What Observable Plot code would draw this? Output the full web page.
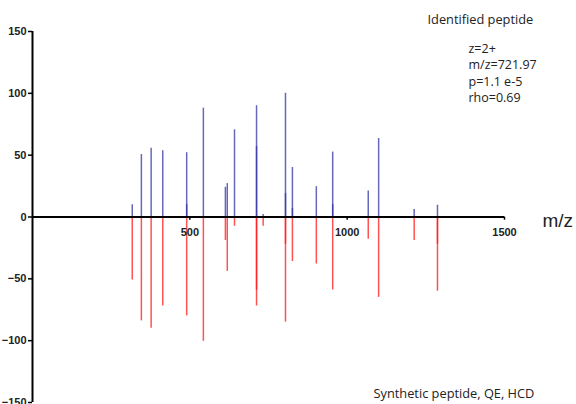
<!DOCTYPE html>
<html>
<head>
<meta charset="utf-8">
<script src="https://cdn.jsdelivr.net/npm/d3@7"></script>
<script src="https://cdn.jsdelivr.net/npm/@observablehq/plot@0.6"></script>
<style>
  html, body { margin: 0; padding: 0; background: #fff; }
  svg { display: block; }
</style>
</head>
<body>
<div id="chart"></div>
<script>
// Identified peptide (top, blue)
const topMz  = [317, 346, 377, 414, 490, 490, 543, 613, 619, 642, 712, 712, 733, 804, 804, 826, 826, 902, 954, 954, 1067, 1100, 1213, 1287];
const topInt = [10, 50.5, 55.5, 53.5, 52, 10, 88, 24, 27, 70.5, 90, 57, 2, 100, 19, 40, 7, 24.5, 52.5, 10, 21, 63.5, 6, 9.5];
// Synthetic peptide (bottom, red)
const botMz  = [317, 346, 377, 414, 490, 543, 613, 619, 642, 712, 712, 733, 804, 804, 826, 902, 954, 1067, 1100, 1213, 1287, 1287, 1441];
const botInt = [51, 84, 90, 72, 80, 100.5, 19, 44, 7.5, 72, 59, 7.5, 85, 22, 36, 38, 59, 18, 65, 19, 60, 22, 1];

const xTicks = [500, 1000, 1500];
const yTicks = [-150, -100, -50, 0, 50, 100, 150];
const infoLines = ["z=2+", "m/z=721.97", "p=1.1 e-5", "rho=0.69"];

const topData = topMz.map((mz, i) => ({mz, v: topInt[i]}));
const botData = botMz.map((mz, i) => ({mz, v: -botInt[i]}));

const chart = Plot.plot({
  width: 576,
  height: 404,
  marginLeft: 32,
  marginRight: 72,
  marginTop: 31,
  marginBottom: 2,
  x: {domain: [0, 1500], axis: null},
  y: {domain: [-150, 150]},
  style: {background: "#fff", fontFamily: "Liberation Sans, Arial, sans-serif", overflow: "visible"},
  marks: [
    Plot.ruleX(topData, {x: "mz", y1: 0, y2: "v", stroke: "#3434a4", strokeWidth: 1.5, strokeOpacity: 0.75}),
    Plot.ruleX(botData, {x: "mz", y1: 0, y2: "v", stroke: "#ff1a1a", strokeWidth: 1.5, strokeOpacity: 0.75}),
    Plot.axisY({ticks: yTicks, tickSize: 4, tickPadding: 2, fontSize: 11, fontWeight: "bold", stroke: "#000", strokeWidth: 1.5, label: null, fill: "#222"}),
    Plot.ruleX([0], {stroke: "#000", strokeWidth: 2}),
    Plot.ruleY([0], {x1: 0, x2: 1500, stroke: "#000", strokeWidth: 2}),
    Plot.ruleX(xTicks, {x: d => d, y1: 0, y2: -2.6, stroke: "#000", strokeWidth: 1.5}),
    Plot.text(xTicks, {x: d => d, y: 0, dy: 15, text: d => String(d), fontSize: 11, fontWeight: "bold", fill: "#222"}),
    Plot.text(["m/z"], {x: 1500, y: 0, dx: 38, dy: 4, text: d => d, textAnchor: "start", fontSize: 19, fill: "#222"}),
    Plot.text(["Identified peptide"], {frameAnchor: "top-left", dx: 395, dy: -12, text: d => d, textAnchor: "start", lineAnchor: "middle", fontSize: 12.8, fontFamily: "Open Sans", fill: "#222"}),
    Plot.text([infoLines.join("\n")], {frameAnchor: "top-left", dx: 436, dy: 10, text: d => d, textAnchor: "start", lineAnchor: "top", lineHeight: 1.3, fontSize: 12.5, fontFamily: "Open Sans", fill: "#222"}),
    Plot.text(["Synthetic peptide, QE, HCD"], {frameAnchor: "bottom-left", dx: 341, dy: -9, text: d => d, textAnchor: "start", lineAnchor: "middle", fontSize: 12.8, fontFamily: "Open Sans", fill: "#222"})
  ]
});
document.getElementById("chart").appendChild(chart);
</script>
</body>
</html>
